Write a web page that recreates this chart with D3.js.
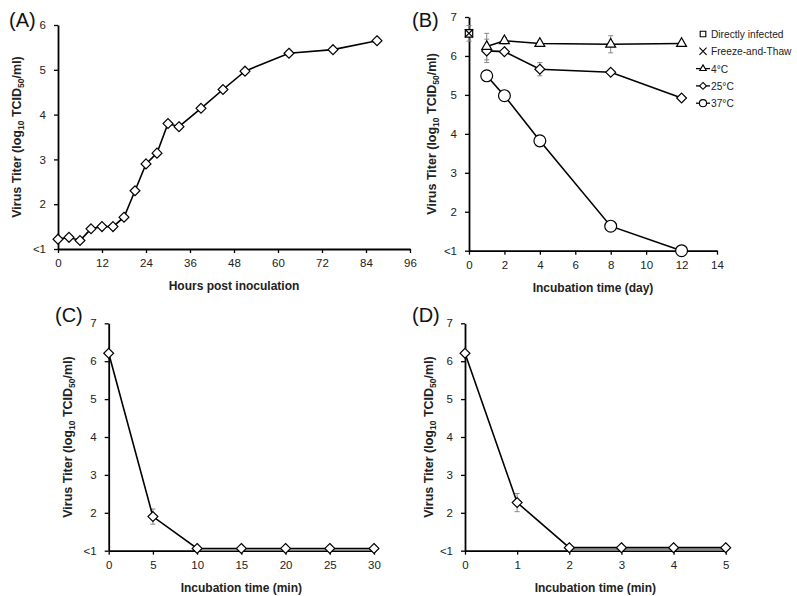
<!DOCTYPE html>
<html><head><meta charset="utf-8">
<script src="https://cdn.jsdelivr.net/npm/d3@7"></script>
<style>body{margin:0;background:#fff}svg{display:block}text{font-family:"Liberation Sans",Arial,sans-serif}</style>
</head><body>
<script>
// ---- data ----
const hoursA = [0,3,6,9,12,15,18,21,24,27,30,33,39,45,51,63,75,87];
const titerA = [1.22,1.26,1.19,1.45,1.50,1.50,1.71,2.30,2.90,3.14,3.80,3.73,4.14,4.56,4.97,5.37,5.45,5.65];

const daysB = [1,2,4,8,12];
const titer4C = [6.24,6.39,6.32,6.30,6.32];
const err4C = [0.34,0.08,0.06,0.22,0.03];
const titer25C = [6.13,6.11,5.66,5.58,4.92];
const err25C = [0.30,0.04,0.17,0.04,0.03];
const titer37C = [5.49,4.98,3.82,1.63,1.00];
const directDay = [0];
const directTiter = [6.58];
const directErr = [0.2];
const freezeTiter = [6.58];

const minsC = [0,5,10,15,20,25,30];
const titerC = [6.21,1.90,1.06,1.06,1.06,1.06,1.06];
const errC = [0,0.2,0,0,0,0,0];

const minsD = [0,1,2,3,4,5];
const titerD = [6.21,2.27,1.08,1.08,1.08,1.08];
const errD = [0,0.24,0,0,0,0];

const ticksA = [0,12,24,36,48,60,72,84,96];
const ticksB = [0,2,4,6,8,10,12,14];
const ticksC = [0,5,10,15,20,25,30];
const ticksD = [0,1,2,3,4,5];
const legendLabels = ["Directly infected","Freeze-and-Thaw","4°C","25°C","37°C"];

// ---- drawing ----
const W=797,H=596;
const svg=d3.select("body").append("svg").attr("width",W).attr("height",H);

function panel(o){
  const g=svg.append("g");
  const x=d3.scaleLinear().domain(o.xd).range([o.l,o.r]);
  const y=d3.scaleLinear().domain(o.yd).range([o.b,o.t]);
  const xa=g.append("g").attr("transform",`translate(0,${o.b})`)
    .call(d3.axisBottom(x).tickValues(o.xt).tickSize(4).tickSizeOuter(0).tickPadding(6).tickFormat(d=>d));
  const yt=d3.range(o.yd[0],o.yd[1]+1);
  const ya=g.append("g").attr("transform",`translate(${o.l},0)`)
    .call(d3.axisLeft(y).tickValues(yt).tickSize(4).tickSizeOuter(0).tickPadding(8).tickFormat(d=>d===1?"<1":d));
  [xa,ya].forEach(a=>{a.select(".domain").attr("stroke","#000").attr("stroke-width",1.8);
    a.selectAll(".tick line").attr("stroke","#000").attr("stroke-width",1.3);
    a.selectAll(".tick text").attr("font-size",11.5).attr("fill","#222").attr("font-family","Liberation Sans, Arial, sans-serif");});
  g.append("text").attr("x",o.lx).attr("y",o.ly).attr("font-size",20).attr("fill","#111").text(o.letter);
  g.append("text").attr("x",(o.l+o.r)/2).attr("y",o.b+41).attr("text-anchor","middle")
    .attr("font-size",12).attr("font-weight","bold").attr("fill","#222").text(o.xlabel);
  const yl=g.append("text").attr("transform",`translate(${o.yx},${(o.t+o.b)/2}) rotate(-90)`)
    .attr("text-anchor","middle").attr("font-size",12.5).attr("font-weight","bold").attr("fill","#222");
  yl.append("tspan").text("Virus Titer (log");
  yl.append("tspan").attr("font-size",8.5).attr("dy",3).text("10");
  yl.append("tspan").attr("dy",-3).text(" TCID");
  yl.append("tspan").attr("font-size",8.5).attr("dy",3).text("50");
  yl.append("tspan").attr("dy",-3).text("/ml)");
  return {g,x,y};
}

function errbars(p,xs,ys,es){
  const gg=p.g.append("g").attr("stroke","#888").attr("stroke-width",1);
  xs.forEach((xv,i)=>{ if(!es[i]) return;
    const cx=p.x(xv), y1=p.y(ys[i]+es[i]), y2=p.y(ys[i]-es[i]);
    gg.append("line").attr("x1",cx).attr("x2",cx).attr("y1",y1).attr("y2",y2);
    gg.append("line").attr("x1",cx-2.5).attr("x2",cx+2.5).attr("y1",y1).attr("y2",y1);
    gg.append("line").attr("x1",cx-2.5).attr("x2",cx+2.5).attr("y1",y2).attr("y2",y2);
  });
}
function line(p,xs,ys){
  const gen=d3.line().x(d=>p.x(d[0])).y(d=>p.y(d[1]));
  p.g.append("path").attr("d",gen(xs.map((v,i)=>[v,ys[i]])))
    .attr("fill","none").attr("stroke","#000").attr("stroke-width",1.6);
}
function marks(p,xs,ys,type,size){
  const sym={diamond:d3.symbolDiamond2,circle:d3.symbolCircle,triangle:d3.symbolTriangle2,square:d3.symbolSquare2}[type];
  p.g.append("g").selectAll("path").data(xs.map((v,i)=>[v,ys[i]])).join("path")
    .attr("transform",d=>`translate(${p.x(d[0])},${p.y(d[1])})`)
    .attr("d",d3.symbol().type(sym).size(size)).attr("fill","#fff").attr("stroke","#000").attr("stroke-width",1.2);
}
function band(p,xs,ys,from){
  const pts=xs.map((v,i)=>[v,ys[i]]).slice(from);
  p.g.append("path").attr("d",d3.area().x(d=>p.x(d[0])).y0(p.y(1)).y1(d=>p.y(d[1])+1)(pts)).attr("fill","#8a8a8a");
}

// Panel A
const A=panel({xd:[0,96],yd:[1,6],xt:ticksA,l:58,r:410,t:25,b:249,letter:"(A)",lx:9,ly:27,xlabel:"Hours post inoculation",yx:21});
line(A,hoursA,titerA); marks(A,hoursA,titerA,"diamond",62);

// Panel B
const B=panel({xd:[0,14],yd:[1,7],xt:ticksB,l:469,r:717,t:17,b:250.7,letter:"(B)",lx:412,ly:27,xlabel:"Incubation time (day)",yx:436});
errbars(B,daysB,titer4C,err4C); errbars(B,daysB,titer25C,err25C); errbars(B,directDay,directTiter,directErr);
line(B,daysB,titer4C); line(B,daysB,titer25C); line(B,daysB,titer37C);
marks(B,daysB,titer37C,"circle",110);
marks(B,daysB,titer25C,"diamond",62);
marks(B,daysB,titer4C,"triangle",70);
marks(B,directDay,directTiter,"square",70);
B.g.append("g").selectAll("path").data(directDay.map((v,i)=>[v,freezeTiter[i]])).join("path")
  .attr("transform",d=>`translate(${B.x(d[0])},${B.y(d[1])})`).attr("d",d3.symbol().type(d3.symbolX).size(45))
  .attr("fill","none").attr("stroke","#000").attr("stroke-width",1.2);

// legend
const lg=svg.append("g");
const ly0=34, ldy=17.3;
legendLabels.forEach((t,i)=>{
  const yy=ly0+i*ldy;
  lg.append("text").attr("x",711).attr("y",yy+4).attr("font-size",10.2).attr("fill","#222").text(t);
  if(i>=2) lg.append("line").attr("x1",696).attr("x2",710).attr("y1",yy).attr("y2",yy).attr("stroke","#000").attr("stroke-width",1.3);
  const sym=[d3.symbolSquare2,d3.symbolX,d3.symbolTriangle2,d3.symbolDiamond2,d3.symbolCircle][i];
  const sz=[40,35,30,30,40][i];
  lg.append("path").attr("transform",`translate(703,${yy})`).attr("d",d3.symbol().type(sym).size(sz))
    .attr("fill",i===1?"none":"#fff").attr("stroke","#000").attr("stroke-width",1.1);
});

// Panel C
const C=panel({xd:[0,30],yd:[1,7],xt:ticksC,l:108.7,r:374,t:323.3,b:550.7,letter:"(C)",lx:55,ly:322,xlabel:"Incubation time (min)",yx:72});
band(C,minsC,titerC,2);
errbars(C,minsC,titerC,errC); line(C,minsC,titerC); marks(C,minsC,titerC,"diamond",62);

// Panel D
const D=panel({xd:[0,5],yd:[1,7],xt:ticksD,l:465,r:725.7,t:323.3,b:550.7,letter:"(D)",lx:412,ly:322,xlabel:"Incubation time (min)",yx:433});
band(D,minsD,titerD,2);
errbars(D,minsD,titerD,errD); line(D,minsD,titerD); marks(D,minsD,titerD,"diamond",62);
</script>
</body></html>
